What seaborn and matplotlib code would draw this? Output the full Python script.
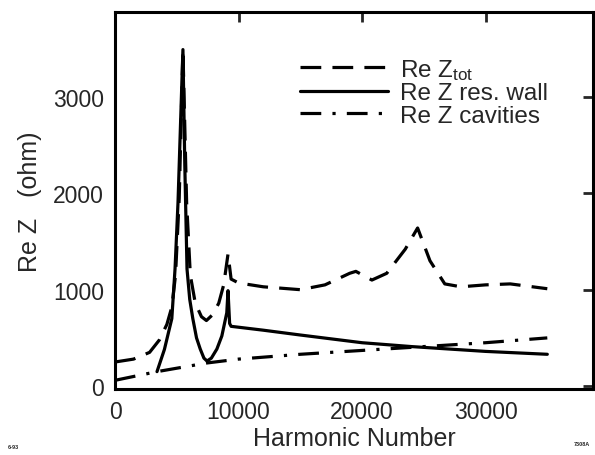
import numpy as np
import pandas as pd
import matplotlib
matplotlib.use("Agg")
import matplotlib.pyplot as plt
import seaborn as sns

sns.set_style("white")
plt.rcParams['font.family'] = ['Liberation Sans', 'DejaVu Sans']
plt.rcParams['mathtext.fontset'] = 'custom'
plt.rcParams['mathtext.rm'] = 'Liberation Sans'

# Re Z total (dashed)
tot_x = [0, 1500, 2800, 3600, 4200, 4600, 4900, 5200, 5500, 5800, 6100, 6500, 7000,
         7400, 7900, 8400, 8800, 9150, 9400, 10000, 12000, 15000, 17000, 19000,
         19500, 20800, 22000, 23500, 24500, 25500, 26700, 28000, 30000, 32000, 35000]
tot_y = [250, 280, 350, 480, 640, 820, 1150, 1950, 3490, 1900, 1150, 860, 720,
         680, 740, 860, 1050, 1370, 1110, 1070, 1030, 1000, 1050, 1170,
         1190, 1100, 1170, 1420, 1640, 1300, 1060, 1030, 1050, 1060, 1010]

# Re Z resistive wall (solid)
wall_x = [3400, 4000, 4600, 4860, 5100, 5300, 5500, 5650, 5830, 6050, 6300, 6600,
          6900, 7200, 7450, 7800, 8250, 8650, 9050, 9150, 9280, 9400, 12000, 15000,
          20000, 24000, 30000, 35000]
wall_y = [150, 380, 700, 1215, 1900, 2700, 3490, 2300, 1215, 900, 700, 500,
          385, 290, 260, 290, 385, 520, 760, 990, 650, 620, 580, 530,
          450, 410, 360, 330]

# Re Z cavities (dash-dot)
cav_x = [0, 3400, 7450, 10000, 15000, 20000, 25000, 30000, 35000]
cav_y = [60, 150, 240, 280, 330, 370, 410, 450, 500]

labels = [r"Re Z$\mathregular{_{tot}}$", "Re Z res. wall", "Re Z cavities"]

fig = plt.figure(figsize=(5.95, 4.56), dpi=100)
ax = fig.add_axes([115/595, 1-390/456, (593-115)/595, (390-13)/456])

lw = 2.3
sns.lineplot(x=tot_x, y=tot_y, ax=ax, color='black', lw=lw, label=labels[0],
             estimator=None, sort=False)
sns.lineplot(x=wall_x, y=wall_y, ax=ax, color='black', lw=lw, label=labels[1],
             estimator=None, sort=False)
sns.lineplot(x=cav_x, y=cav_y, ax=ax, color='black', lw=lw, label=labels[2],
             estimator=None, sort=False)
lines = ax.get_lines()
lines[0].set_dashes((6.5, 3.5))
lines[2].set_dashes((6.5, 3.5, 1, 3.5))

ax.set_xlim(0, 38700)
ax.set_ylim(-30, 3880)
ax.set_xticks([0, 10000, 20000, 30000])
ax.set_yticks([0, 1000, 2000, 3000])
ax.tick_params(direction='in', length=7, width=2, labelsize=16.5, top=True, right=True,
               pad=8)
for s in ax.spines.values():
    s.set_visible(True)
    s.set_linewidth(2.2)
    s.set_color('black')

ax.set_xlabel("Harmonic Number", fontsize=18, labelpad=2)
ax.set_ylabel("Re Z   (ohm)", fontsize=18, labelpad=8)

leg = ax.legend(loc='upper left', bbox_to_anchor=(300/595, 1-58/456),
                bbox_transform=fig.transFigure, frameon=False, fontsize=17.5,
                handlelength=3.6, handletextpad=0.5, labelspacing=0.02,
                borderpad=0, borderaxespad=0)

fig.text(8/595, 1-448/456, "6-93", fontsize=4, fontweight='bold', va='center')
fig.text(582/595, 1-445/456, "7308A", fontsize=4, fontweight='bold', va='center', ha='center')

fig.savefig("out.png", dpi=100)
